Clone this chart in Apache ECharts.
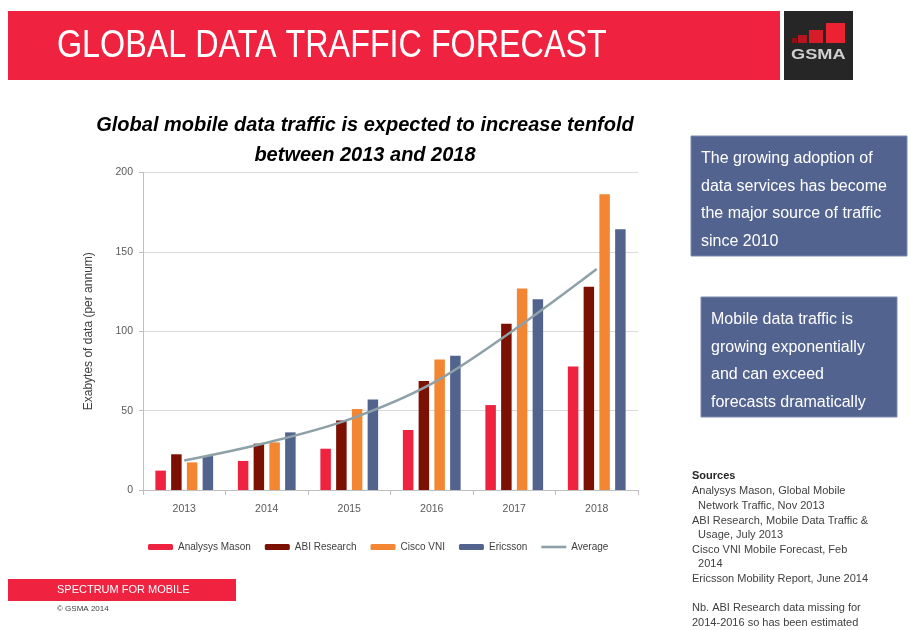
<!DOCTYPE html>
<html>
<head>
<meta charset="utf-8">
<title>Global data traffic forecast</title>
<script src="https://cdn.jsdelivr.net/npm/echarts@6/dist/echarts.min.js"></script>
<style>
  html, body { margin: 0; padding: 0; background: #fff; }
  #main { width: 910px; height: 630px; }
</style>
</head>
<body>
<div id="main"></div>
<script>
// data (exabytes per annum)
var years = ['2013', '2014', '2015', '2016', '2017', '2018'];
var analysysMason = [12.2, 18.3, 26, 37.8, 53.5, 77.8];
var abiResearch = [22.5, 29.2, 43.8, 68.6, 104.7, 128];
var ciscoVni = [17.4, 30, 51, 82.2, 127, 186.3];
var ericsson = [21.4, 36.3, 57, 84.5, 120.2, 164.3];
var average = [18.6, 29.8, 44.5, 67, 101, 139.2];
var yTicks = [0, 50, 100, 150, 200];

var sourceLines = [
    'Analysys Mason, Global Mobile',
    '  Network Traffic, Nov 2013',
    'ABI Research, Mobile Data Traffic &',
    '  Usage, July 2013',
    'Cisco VNI Mobile Forecast, Feb',
    '  2014',
    'Ericsson Mobility Report, June 2014',
    '',
    'Nb. ABI Research data missing for',
    '2014-2016 so has been estimated'
];

var RED = '#ef2240';
var BOX = '#536390';
var AVG = '#8ea1a9';
var font = 'Liberation Sans, Arial, sans-serif';

var myChart = echarts.init(document.getElementById('main'));

function barSeries(name, data, color) {
    return {
        name: name,
        type: 'bar',
        data: data,
        barWidth: 10.5,
        barGap: '50%',
        itemStyle: { color: color },
        z: 2
    };
}

var option = {
    backgroundColor: '#fff',
    animation: false,
    textStyle: { fontFamily: font },
    grid: { left: 143, right: 272, top: 172.5, bottom: 140 },
    legend: {
        left: 143,
        top: 537,
        itemWidth: 25,
        itemHeight: 6,
        itemGap: 14,
        textStyle: { fontSize: 10, color: '#404040', fontFamily: font },
        data: [
            'Analysys Mason', 'ABI Research', 'Cisco VNI', 'Ericsson',
            { name: 'Average', icon: 'path://M0,0 H24 V2.5 H0 Z' }
        ]
    },
    xAxis: {
        type: 'category',
        data: years,
        axisLine: { lineStyle: { color: '#bfbfbf' } },
        axisTick: { show: true, length: 5, lineStyle: { color: '#bfbfbf' } },
        axisLabel: { color: '#595959', fontSize: 10.5, margin: 14 }
    },
    yAxis: {
        type: 'value',
        min: yTicks[0],
        max: yTicks[yTicks.length - 1],
        interval: 50,
        name: 'Exabytes of data (per annum)',
        nameLocation: 'middle',
        nameGap: 48,
        nameTextStyle: { fontSize: 12, color: '#404040' },
        axisLine: { show: true, lineStyle: { color: '#bfbfbf' } },
        axisTick: { show: true, length: 4, lineStyle: { color: '#bfbfbf' } },
        axisLabel: { color: '#595959', fontSize: 10.5, margin: 10 },
        splitLine: { lineStyle: { color: '#d9d9d9' } }
    },
    series: [
        barSeries('Analysys Mason', analysysMason, '#ef2240'),
        barSeries('ABI Research', abiResearch, '#7c1002'),
        barSeries('Cisco VNI', ciscoVni, '#f38632'),
        barSeries('Ericsson', ericsson, '#52638e'),
        {
            name: 'Average',
            type: 'line',
            data: average,
            smooth: 0.35,
            symbol: 'none',
            lineStyle: { color: AVG, width: 2.5 },
            itemStyle: { color: AVG },
            z: 5
        }
    ],
    graphic: [
        // header band
        { type: 'rect', shape: { x: 8, y: 11, width: 772, height: 69 }, style: { fill: RED } },
        {
            type: 'text', x: 57, y: 47, scaleX: 0.85,
            style: {
                text: 'GLOBAL DATA TRAFFIC FORECAST', fill: '#fff',
                font: '38px "Liberation Sans Narrow", "Liberation Sans", Arial, sans-serif',
                verticalAlign: 'middle'
            }
        },
        // gsma logo
        { type: 'rect', shape: { x: 784, y: 11, width: 69, height: 69 }, style: { fill: '#262626' } },
        { type: 'rect', shape: { x: 792, y: 38, width: 5, height: 5 }, style: { fill: '#8c0f14' } },
        { type: 'rect', shape: { x: 798, y: 35, width: 9, height: 8 }, style: { fill: '#b8141e' } },
        { type: 'rect', shape: { x: 809, y: 30, width: 14, height: 13 }, style: { fill: '#d61b29' } },
        { type: 'rect', shape: { x: 826, y: 23, width: 19, height: 20 }, style: { fill: '#ec2232' } },
        {
            type: 'text', x: 791, y: 55, scaleX: 1.3,
            style: {
                text: 'GSMA', fill: '#d0d0d0', font: 'bold 14px ' + font,
                verticalAlign: 'middle'
            }
        },
        // chart heading
        {
            type: 'text', x: 365, y: 110,
            style: {
                text: 'Global mobile data traffic is expected to increase tenfold\nbetween 2013 and 2018',
                fill: '#000', font: 'italic bold 20px ' + font,
                align: 'center', lineHeight: 30
            }
        },
        // side boxes
        { type: 'rect', shape: { x: 691, y: 136, width: 216, height: 120 }, style: { fill: BOX, stroke: '#7d8bb0', lineWidth: 1 } },
        {
            type: 'text', x: 701, y: 145,
            style: {
                text: 'The growing adoption of\ndata services has become\nthe major source of traffic\nsince 2010',
                fill: '#fff', font: '16px ' + font, lineHeight: 27.5
            }
        },
        { type: 'rect', shape: { x: 701, y: 297, width: 196, height: 120 }, style: { fill: BOX, stroke: '#7d8bb0', lineWidth: 1 } },
        {
            type: 'text', x: 711, y: 306,
            style: {
                text: 'Mobile data traffic is\ngrowing exponentially\nand can exceed\nforecasts dramatically',
                fill: '#fff', font: '16px ' + font, lineHeight: 27.5
            }
        },
        // sources
        {
            type: 'text', x: 692, y: 470,
            style: {
                text: 'Sources', fill: '#262626', font: 'bold 11px ' + font
            }
        },
        {
            type: 'text', x: 692, y: 484,
            style: {
                text: sourceLines.join('\n'), fill: '#404040',
                font: '11px ' + font, lineHeight: 14.6
            }
        },
        // footer
        { type: 'rect', shape: { x: 8, y: 579, width: 228, height: 22 }, style: { fill: RED } },
        {
            type: 'text', x: 57, y: 590,
            style: {
                text: 'SPECTRUM FOR MOBILE', fill: '#fff',
                font: '11px ' + font, verticalAlign: 'middle'
            }
        },
        {
            type: 'text', x: 57, y: 609,
            style: {
                text: '\u00A9 GSMA 2014', fill: '#404040',
                font: '8px ' + font, verticalAlign: 'middle'
            }
        }
    ]
};

if (option && typeof option === "object") {
    myChart.setOption(option, true);
}
</script>
</body>
</html>
